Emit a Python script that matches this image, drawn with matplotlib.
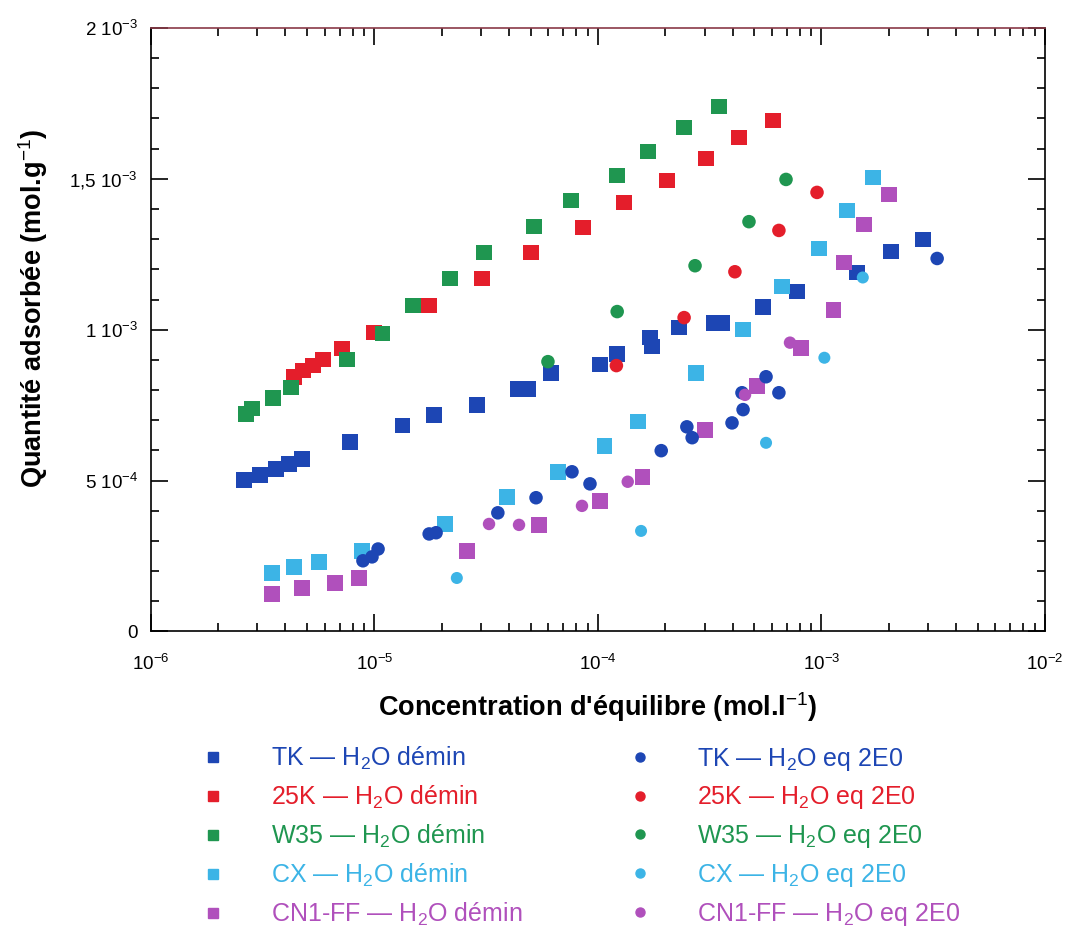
import matplotlib
matplotlib.use('Agg')
import matplotlib.pyplot as plt
from matplotlib.ticker import FixedLocator, LogLocator, NullFormatter
from matplotlib.lines import Line2D

plt.rcParams['font.family'] = ['Liberation Sans', 'DejaVu Sans']
plt.rcParams['mathtext.fontset'] = 'custom'
plt.rcParams['mathtext.rm'] = 'Liberation Sans'
plt.rcParams['mathtext.it'] = 'Liberation Sans:italic'
plt.rcParams['mathtext.bf'] = 'Liberation Sans:bold'

# concentration (mol/l) and adsorbed amount (mol/g)
tk_demin_x = [2.61e-6, 3.08e-6, 3.63e-6, 4.15e-6, 4.75e-6, 7.79e-6, 1.34e-5, 1.85e-5, 2.88e-5,
              4.39e-5, 4.87e-5, 6.17e-5, 1.02e-4, 1.22e-4, 1.71e-4, 1.75e-4, 2.31e-4, 3.31e-4,
              3.59e-4, 5.47e-4, 7.77e-4, 1.44e-3, 2.05e-3, 2.84e-3]
tk_demin_y = [0.502e-3, 0.519e-3, 0.539e-3, 0.555e-3, 0.572e-3, 0.628e-3, 0.682e-3, 0.718e-3,
              0.751e-3, 0.804e-3, 0.804e-3, 0.857e-3, 0.884e-3, 0.920e-3, 0.974e-3, 0.944e-3,
              1.007e-3, 1.023e-3, 1.023e-3, 1.076e-3, 1.126e-3, 1.189e-3, 1.259e-3, 1.299e-3]

k25_demin_x = [4.37e-6, 4.80e-6, 5.32e-6, 5.90e-6, 7.17e-6, 9.97e-6, 1.76e-5, 3.03e-5, 5.02e-5,
               8.58e-5, 1.31e-4, 2.04e-4, 3.04e-4, 4.28e-4, 6.07e-4]
k25_demin_y = [0.844e-3, 0.864e-3, 0.881e-3, 0.901e-3, 0.937e-3, 0.990e-3, 1.080e-3, 1.169e-3,
               1.256e-3, 1.338e-3, 1.421e-3, 1.494e-3, 1.567e-3, 1.637e-3, 1.693e-3]

w35_demin_x = [2.67e-6, 2.84e-6, 3.52e-6, 4.24e-6, 7.55e-6, 1.09e-5, 1.49e-5, 2.18e-5, 3.09e-5,
               5.18e-5, 7.58e-5, 1.22e-4, 1.68e-4, 2.43e-4, 3.48e-4]
w35_demin_y = [0.721e-3, 0.738e-3, 0.774e-3, 0.808e-3, 0.901e-3, 0.987e-3, 1.080e-3, 1.169e-3,
               1.256e-3, 1.342e-3, 1.428e-3, 1.511e-3, 1.591e-3, 1.670e-3, 1.740e-3]

cx_demin_x = [3.49e-6, 4.37e-6, 5.66e-6, 8.81e-6, 2.07e-5, 3.92e-5, 6.63e-5, 1.07e-4, 1.51e-4,
              2.75e-4, 4.46e-4, 6.66e-4, 9.74e-4, 1.30e-3, 1.70e-3]
cx_demin_y = [0.194e-3, 0.214e-3, 0.230e-3, 0.267e-3, 0.356e-3, 0.446e-3, 0.529e-3, 0.615e-3,
              0.695e-3, 0.857e-3, 1.000e-3, 1.143e-3, 1.269e-3, 1.395e-3, 1.504e-3]

cn1_demin_x = [3.49e-6, 4.75e-6, 6.67e-6, 8.54e-6, 2.60e-5, 5.45e-5, 1.02e-4, 1.58e-4, 3.01e-4,
               5.15e-4, 8.10e-4, 1.13e-3, 1.26e-3, 1.55e-3, 2.00e-3]
cn1_demin_y = [0.124e-3, 0.144e-3, 0.161e-3, 0.177e-3, 0.267e-3, 0.353e-3, 0.433e-3, 0.512e-3,
               0.668e-3, 0.814e-3, 0.940e-3, 1.066e-3, 1.222e-3, 1.348e-3, 1.448e-3]

tk_eq_x = [8.90e-6, 9.77e-6, 1.04e-5, 1.76e-5, 1.89e-5, 3.57e-5, 5.29e-5, 7.66e-5, 9.22e-5,
           1.92e-4, 2.50e-4, 2.64e-4, 3.98e-4, 4.46e-4, 4.41e-4, 5.65e-4, 6.45e-4, 3.29e-3]
tk_eq_y = [0.234e-3, 0.247e-3, 0.273e-3, 0.323e-3, 0.327e-3, 0.393e-3, 0.443e-3, 0.529e-3,
           0.489e-3, 0.599e-3, 0.678e-3, 0.642e-3, 0.691e-3, 0.735e-3, 0.791e-3, 0.844e-3,
           0.791e-3, 1.236e-3]

k25_eq_x = [1.21e-4, 2.43e-4, 4.10e-4, 6.45e-4, 9.55e-4]
k25_eq_y = [0.881e-3, 1.040e-3, 1.192e-3, 1.329e-3, 1.455e-3]

w35_eq_x = [5.98e-5, 1.22e-4, 2.72e-4, 4.74e-4, 6.94e-4]
w35_eq_y = [0.894e-3, 1.060e-3, 1.212e-3, 1.358e-3, 1.498e-3]

cx_eq_x = [2.34e-5, 1.56e-4, 5.65e-4, 1.03e-3, 1.53e-3]
cx_eq_y = [0.177e-3, 0.333e-3, 0.625e-3, 0.907e-3, 1.173e-3]

cn1_eq_x = [3.26e-5, 4.44e-5, 8.49e-5, 1.36e-4, 4.55e-4, 7.23e-4]
cn1_eq_y = [0.356e-3, 0.353e-3, 0.416e-3, 0.496e-3, 0.784e-3, 0.957e-3]

blue = '#1d46b4'
red = '#e41e2b'
green = '#1f9650'
cyan = '#3cb4e6'
purple = '#b050bc'

fig = plt.figure(figsize=(10.73, 9.39), dpi=100)
ax = fig.add_axes([0.1404, 0.3276, 0.8336, 0.6426])

demin = [
    (tk_demin_x, tk_demin_y, blue, 'TK \u2014 H$_2$O démin'),
    (k25_demin_x, k25_demin_y, red, '25K \u2014 H$_2$O démin'),
    (w35_demin_x, w35_demin_y, green, 'W35 \u2014 H$_2$O démin'),
    (cx_demin_x, cx_demin_y, cyan, 'CX \u2014 H$_2$O démin'),
    (cn1_demin_x, cn1_demin_y, purple, 'CN1-FF \u2014 H$_2$O démin'),
]
eq = [
    (tk_eq_x, tk_eq_y, blue, 'TK \u2014 H$_2$O eq 2E0', 95),
    (k25_eq_x, k25_eq_y, red, '25K \u2014 H$_2$O eq 2E0', 95),
    (w35_eq_x, w35_eq_y, green, 'W35 \u2014 H$_2$O eq 2E0', 95),
    (cx_eq_x, cx_eq_y, cyan, 'CX \u2014 H$_2$O eq 2E0', 75),
    (cn1_eq_x, cn1_eq_y, purple, 'CN1-FF \u2014 H$_2$O eq 2E0', 80),
]

handles = []
labels = []
for x, y, c, lab in demin:
    ax.scatter(x, y, marker='s', s=125, color=c, edgecolors='none', zorder=3)
    handles.append(Line2D([], [], marker='s', ls='none', color=c, markersize=7))
    labels.append(lab)
for x, y, c, lab, s in eq:
    ax.scatter(x, y, marker='o', s=s, color=c, edgecolors='none', zorder=4)
    handles.append(Line2D([], [], marker='o', ls='none', color=c, markersize=6.5))
    labels.append(lab)

ax.set_xscale('log')
ax.set_xlim(1e-6, 1e-2)
ax.set_ylim(0, 2e-3)

ax.xaxis.set_major_locator(FixedLocator([1e-6, 1e-5, 1e-4, 1e-3, 1e-2]))
ax.xaxis.set_minor_locator(LogLocator(base=10, subs=range(2, 10), numticks=20))
ax.xaxis.set_minor_formatter(NullFormatter())
ax.set_xticklabels(['10$^{-6}$', '10$^{-5}$', '10$^{-4}$', '10$^{-3}$', '10$^{-2}$'])

ax.set_yticks([0, 0.5e-3, 1e-3, 1.5e-3, 2e-3])
ax.set_yticks([i * 1e-4 for i in range(21)], minor=True)
ax.set_yticklabels(['0', '5 10$^{-4}$', '1 10$^{-3}$', '1,5 10$^{-3}$', '2 10$^{-3}$'])

ax.tick_params(which='both', direction='in', top=True, right=True, width=1.2, labelsize=13.5)
ax.tick_params(which='major', length=12)
ax.tick_params(which='minor', length=6)
ax.tick_params(axis='x', pad=16)
ax.tick_params(axis='y', pad=9)
for sp in ax.spines.values():
    sp.set_linewidth(1.2)
ax.spines['top'].set_color('#8a3a48')

ax.set_xlabel("Concentration d'équilibre (mol.l$^{-1}$)", fontsize=19.5, fontweight='bold',
              labelpad=12)
ax.set_ylabel('Quantité adsorbée (mol.g$^{-1}$)', fontsize=19.5, fontweight='bold')
ax.yaxis.set_label_coords(-0.113, 0.535)

leg = fig.legend(handles, labels, ncol=2, loc='upper left', bbox_to_anchor=(0.187, 0.207),
                 frameon=False, fontsize=18, handlelength=1.0, handletextpad=1.8,
                 columnspacing=4.2, labelspacing=0.47, borderaxespad=0, borderpad=0)
for txt, (_, _, c, *_r) in zip(leg.get_texts(), demin + eq):
    txt.set_color(c)

fig.savefig('out.png', dpi=100)
